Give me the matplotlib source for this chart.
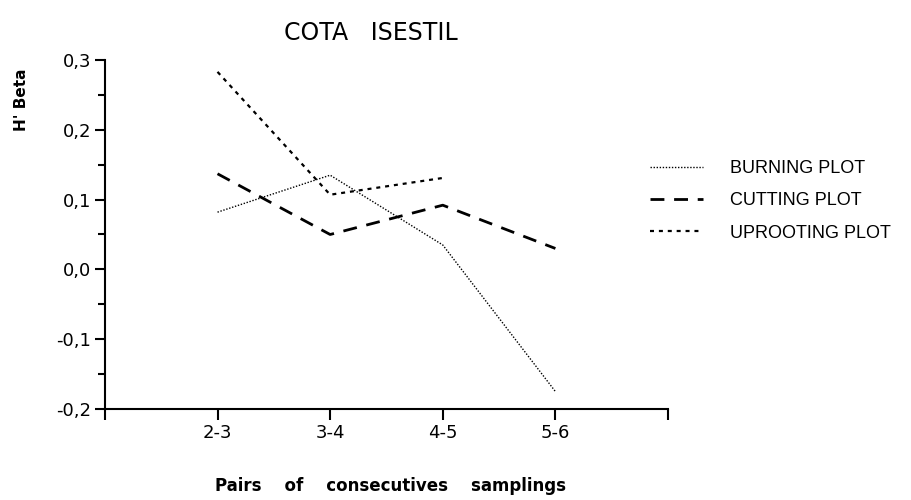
import matplotlib
matplotlib.use("Agg")
import matplotlib.pyplot as plt
import numpy as np
from matplotlib.ticker import MultipleLocator, FuncFormatter
from matplotlib import font_manager

categories = ["2-3", "3-4", "4-5", "5-6"]
burning = [0.082, 0.135, 0.035, -0.175]
cutting = [0.137, 0.05, 0.092, 0.03]
uprooting = [0.283, 0.107, 0.131, np.nan]

plt.rcParams['font.family'] = ['DejaVu Sans']
names = {f.name for f in font_manager.fontManager.ttflist}
narrow = 'Liberation Sans Narrow' if 'Liberation Sans Narrow' in names else 'Liberation Sans'

fig = plt.figure(figsize=(9.12, 5.0), dpi=100)
ax = fig.add_axes([0.115, 0.182, 0.6175, 0.698])

x = np.arange(1, len(categories) + 1)
ax.plot(x, burning, color="black", lw=1.0, linestyle=(0, (1, 1.2)), label="BURNING PLOT")
ax.plot(x, cutting, color="black", lw=2.0, linestyle=(0, (5, 3.5)), label="CUTTING PLOT")
ax.plot(x, uprooting, color="black", lw=1.6, linestyle=(0, (1.8, 2.2)), label="UPROOTING PLOT")

ax.set_xlim(0, 5)
ax.set_ylim(-0.2, 0.3)
ax.set_xticks(np.arange(0, 6))
ax.set_xticklabels([""] + categories + [""])
ax.yaxis.set_major_locator(MultipleLocator(0.1))
ax.yaxis.set_minor_locator(MultipleLocator(0.05))
ax.yaxis.set_major_formatter(FuncFormatter(lambda v, p: f"{v:.1f}".replace(".", ",").replace("-0,0", "0,0")))

for s in ["top", "right"]:
    ax.spines[s].set_visible(False)
for s in ["left", "bottom"]:
    ax.spines[s].set_linewidth(1.5)

ax.tick_params(axis="y", which="major", direction="out", length=7, width=1.5, labelsize=13, pad=3)
ax.tick_params(axis="y", which="minor", direction="out", length=5, width=1.5)
ax.tick_params(axis="x", which="major", direction="out", length=8, width=1.5, labelsize=13, pad=3)

fig.text(0.407, 0.935, "COTA   ISESTIL", ha="center", va="center", fontsize=17)
fig.text(0.024, 0.80, "H' Beta", rotation=90, ha="center", va="center", fontsize=11, fontweight="bold")
fig.text(0.428, 0.028, "Pairs    of    consecutives    samplings", ha="center", va="center",
         fontsize=12, fontweight="bold")

fig.legend(loc="upper left", bbox_to_anchor=(0.713, 0.680), frameon=False,
           prop={'family': narrow, 'size': 13},
           handlelength=2.9, labelspacing=0.85, handletextpad=1.5,
           borderpad=0, borderaxespad=0)

fig.savefig("out.png", dpi=100)
